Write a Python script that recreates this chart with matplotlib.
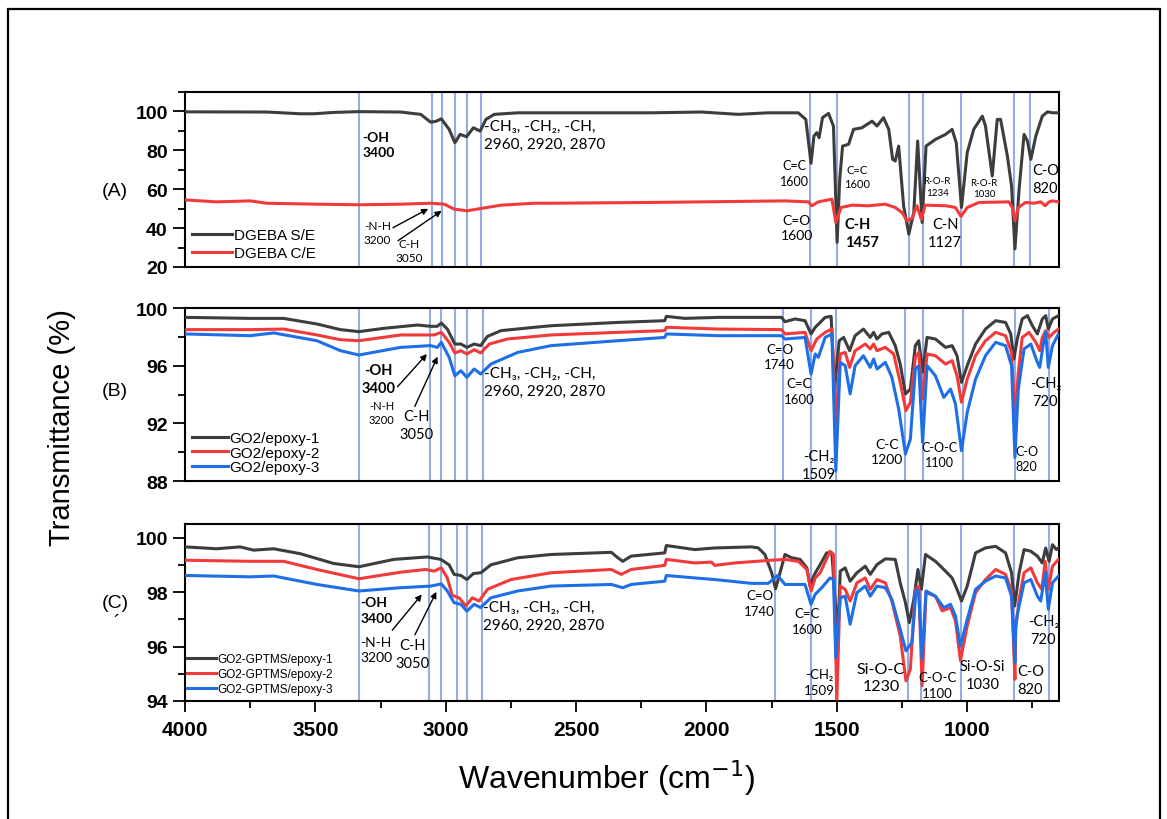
import matplotlib
matplotlib.use("Agg")
import matplotlib.pyplot as plt
from matplotlib import font_manager
from matplotlib.patches import Rectangle
from matplotlib.ticker import MultipleLocator

# ---------------- data (wavenumber cm-1, transmittance %) ----------------
# (A) DGEBA
a_se_wn = [4000, 3686, 3558, 3506, 3430, 3333, 3173, 3096, 3058, 3038, 3017, 2987, 2965, 2945, 2920,
           2894, 2868, 2846, 2814, 2724, 2596, 2468, 2212, 2019, 1878, 1763, 1648, 1619, 1599, 1588,
           1577, 1568, 1555, 1532, 1513, 1499, 1489, 1478, 1455, 1436, 1404, 1365, 1346, 1321, 1301,
           1286, 1276, 1263, 1244, 1224, 1205, 1190, 1173, 1158, 1122, 1083, 1058, 1042, 1022, 1000,
           975, 942, 930, 904, 885, 872, 846, 830, 817, 801, 782, 769, 756, 737, 712, 692, 673, 650]
a_se_t = [99.8, 99.7, 98.8, 98.8, 99.5, 99.9, 99.7, 98.5, 94.5, 94.9, 96.2, 90.8, 83.9, 88.2, 87.0,
          91.6, 89.9, 95.9, 98.5, 99.3, 99.3, 99.3, 99.3, 99.7, 98.5, 99.3, 99.3, 95.9, 73.3, 87.3,
          89.1, 86.5, 96.8, 99.0, 92.5, 32.7, 65.1, 82.2, 83.1, 90.8, 91.6, 95.0, 92.5, 96.8, 90.8,
          75.4, 74.5, 82.2, 51.5, 36.9, 48.0, 84.8, 42.9, 82.2, 85.6, 88.2, 90.8, 83.9, 50.6, 78.8,
          90.8, 97.6, 92.5, 66.8, 95.9, 95.9, 77.1, 61.7, 29.3, 60.0, 88.2, 84.8, 75.4, 87.3, 97.6,
          99.8, 99.3, 99.3]

a_ce_wn = [4000, 3878, 3750, 3686, 3494, 3333, 3173, 3058, 3006, 2968, 2919, 2865, 2788, 2660, 2596,
           2212, 1699, 1609, 1596, 1571, 1519, 1504, 1484, 1442, 1378, 1314, 1276, 1250, 1231, 1212,
           1193, 1176, 1161, 1083, 1045, 1024, 1000, 955, 840, 827, 817, 804, 776, 744, 718, 701,
           686, 673, 650]
a_ce_t = [54.5, 53.5, 54.0, 52.8, 52.3, 52.0, 52.3, 52.8, 52.3, 49.8, 48.9, 50.1, 51.8, 52.8, 52.8,
          53.2, 54.0, 53.5, 51.5, 53.5, 54.9, 42.9, 50.6, 51.8, 51.5, 52.3, 50.6, 48.0, 43.8, 45.0,
          51.5, 44.6, 51.8, 51.5, 50.6, 46.0, 50.6, 53.2, 53.5, 50.6, 43.8, 50.6, 53.2, 52.8, 53.5,
          51.5, 53.5, 54.0, 53.5]

# (B) GO2/epoxy
b1_wn = [4000, 3750, 3622, 3494, 3404, 3333, 3237, 3109, 3058, 3032, 3017, 2994, 2965, 2942, 2919,
         2891, 2866, 2840, 2788, 2660, 2596, 2340, 2160, 2154, 2083, 1955, 1827, 1712, 1699, 1660,
         1622, 1599, 1583, 1564, 1545, 1522, 1509, 1491, 1474, 1451, 1430, 1398, 1372, 1359, 1346,
         1327, 1301, 1276, 1257, 1237, 1218, 1199, 1186, 1171, 1154, 1122, 1083, 1058, 1039, 1022,
         1000, 968, 930, 891, 853, 833, 821, 808, 789, 769, 750, 731, 712, 699, 689, 673, 650]
b1_t = [99.35, 99.28, 99.28, 98.89, 98.5, 98.36, 98.59, 98.82, 98.73, 98.73, 98.96, 98.54, 97.5, 97.5,
        97.27, 97.5, 97.39, 98.03, 98.43, 98.66, 98.77, 99.0, 99.12, 99.42, 99.28, 99.35, 99.35, 99.35,
        99.05, 99.24, 99.12, 98.2, 98.66, 99.0, 99.35, 99.42, 94.4, 97.73, 97.96, 97.04, 98.08, 98.54,
        97.96, 98.31, 97.85, 98.2, 98.31, 97.39, 96.11, 94.04, 94.38, 97.39, 97.73, 95.54, 97.96, 97.85,
        97.27, 97.39, 96.69, 94.84, 96.0, 97.5, 98.54, 99.12, 99.0, 98.2, 96.46, 97.85, 99.24, 99.47,
        98.77, 98.2, 99.24, 99.47, 98.54, 99.24, 99.47]

b2_wn = [4000, 3750, 3622, 3494, 3404, 3333, 3173, 3045, 3017, 2987, 2965, 2942, 2919, 2891, 2866,
         2833, 2763, 2596, 2340, 2160, 2154, 1955, 1712, 1699, 1622, 1599, 1577, 1545, 1519, 1504,
         1487, 1468, 1451, 1430, 1391, 1372, 1359, 1346, 1314, 1282, 1257, 1235, 1218, 1199, 1186,
         1171, 1154, 1122, 1083, 1058, 1039, 1022, 1000, 968, 930, 891, 853, 830, 817, 804, 789, 763,
         737, 722, 712, 699, 686, 667, 650]
b2_t = [98.5, 98.5, 98.54, 98.13, 97.8, 97.73, 98.13, 98.13, 98.31, 97.62, 96.88, 97.04, 96.81, 97.11,
        96.88, 97.5, 97.85, 98.13, 98.31, 98.43, 98.66, 98.54, 98.5, 98.2, 98.31, 97.04, 97.85, 98.31,
        98.54, 92.07, 96.81, 96.92, 95.88, 97.04, 97.5, 97.16, 97.5, 97.04, 97.27, 96.81, 94.84, 92.88,
        93.46, 96.58, 96.92, 93.69, 96.81, 96.69, 96.11, 96.35, 95.3, 93.46, 95.07, 96.69, 97.73, 98.31,
        98.08, 96.92, 92.3, 95.54, 97.96, 98.31, 97.62, 97.04, 97.96, 98.43, 97.96, 98.31, 98.54]

b3_wn = [4000, 3750, 3660, 3494, 3404, 3333, 3173, 3058, 3032, 3017, 2987, 2965, 2942, 2919, 2891,
         2866, 2827, 2724, 2596, 2340, 2160, 2154, 1955, 1712, 1699, 1622, 1599, 1583, 1571, 1545,
         1519, 1504, 1487, 1468, 1449, 1430, 1398, 1372, 1359, 1346, 1314, 1289, 1263, 1237, 1218,
         1199, 1186, 1171, 1154, 1122, 1090, 1064, 1045, 1022, 1000, 968, 930, 891, 853, 830, 817,
         804, 782, 756, 731, 722, 709, 699, 689, 673, 650]
b3_t = [98.2, 98.08, 98.27, 97.73, 97.04, 96.74, 97.27, 97.39, 97.27, 97.62, 96.58, 95.3, 95.65, 95.19,
        95.77, 95.42, 96.11, 96.92, 97.39, 97.73, 97.96, 98.2, 98.08, 98.08, 97.85, 97.96, 95.42, 96.81,
        96.58, 97.96, 98.2, 88.7, 96.23, 96.0, 94.04, 96.0, 96.69, 95.88, 96.46, 95.77, 96.23, 95.19,
        93.0, 89.87, 90.91, 95.77, 96.0, 90.68, 96.0, 95.3, 93.8, 94.38, 93.34, 90.1, 92.76, 95.07,
        96.69, 97.62, 97.39, 96.0, 89.64, 94.38, 97.16, 97.5, 96.23, 95.88, 97.39, 98.31, 95.88, 97.39,
        98.2]

# (C) GO2-GPTMS/epoxy
c1_wn = [4000, 3878, 3789, 3737, 3660, 3558, 3430, 3333, 3199, 3071, 3019, 2987, 2968, 2942, 2919,
         2894, 2865, 2827, 2724, 2596, 2365, 2340, 2321, 2289, 2160, 2154, 2045, 1968, 1827, 1801,
         1776, 1750, 1735, 1718, 1699, 1673, 1641, 1615, 1603, 1586, 1564, 1539, 1519, 1507, 1496,
         1487, 1468, 1449, 1423, 1391, 1372, 1346, 1314, 1276, 1257, 1237, 1222, 1205, 1189, 1176,
         1160, 1122, 1096, 1058, 1039, 1022, 1000, 968, 930, 891, 853, 830, 818, 801, 782, 756, 731,
         712, 699, 686, 673, 658, 650]
c1_t = [99.66, 99.59, 99.66, 99.54, 99.59, 99.41, 99.05, 98.93, 99.2, 99.29, 99.2, 99.0, 98.65, 98.61,
        98.46, 98.68, 98.71, 99.0, 99.26, 99.38, 99.46, 99.26, 99.13, 99.32, 99.44, 99.71, 99.56, 99.62,
        99.66, 99.62, 99.38, 98.71, 98.12, 98.71, 99.38, 99.26, 99.2, 98.89, 98.22, 98.65, 99.01, 99.44,
        99.44, 97.73, 96.5, 98.77, 98.89, 98.4, 98.71, 98.95, 98.65, 99.01, 99.22, 99.2, 98.34, 97.61,
        96.88, 97.73, 98.83, 98.1, 99.38, 99.13, 98.89, 98.52, 98.1, 97.67, 98.22, 99.44, 99.62, 99.68,
        99.44, 98.71, 97.49, 98.71, 99.56, 99.5, 99.32, 99.07, 99.62, 99.13, 99.74, 99.56, 99.62]

c2_wn = [4000, 3750, 3622, 3494, 3333, 3173, 3077, 3045, 3017, 2994, 2975, 2949, 2923, 2898, 2872,
         2840, 2750, 2596, 2365, 2327, 2289, 2160, 2154, 2045, 1981, 1968, 1891, 1750, 1699, 1648,
         1615, 1599, 1583, 1564, 1526, 1513, 1500, 1487, 1468, 1449, 1423, 1391, 1372, 1346, 1314,
         1289, 1257, 1235, 1218, 1199, 1186, 1173, 1158, 1122, 1096, 1064, 1045, 1026, 1000, 968,
         930, 891, 853, 830, 817, 814, 801, 782, 756, 731, 714, 701, 689, 673, 650]
c2_t = [99.17, 99.13, 99.13, 98.83, 98.49, 98.73, 98.83, 98.77, 98.89, 98.52, 97.88, 97.79, 97.49,
        97.79, 97.67, 98.1, 98.46, 98.71, 98.83, 98.65, 98.83, 98.98, 99.2, 99.07, 99.1, 98.98, 99.07,
        99.17, 99.2, 99.13, 98.83, 98.04, 98.52, 98.71, 99.5, 99.38, 94.07, 98.22, 98.1, 97.67, 98.34,
        98.52, 98.1, 98.46, 98.34, 97.67, 96.39, 94.74, 95.17, 98.1, 98.22, 94.56, 97.98, 97.85, 97.31,
        97.43, 96.94, 95.48, 96.76, 97.98, 98.46, 98.83, 98.65, 98.04, 94.8, 96.63, 97.73, 98.71,
        98.89, 98.34, 98.1, 99.13, 98.1, 98.95, 99.2]

c3_wn = [4000, 3750, 3660, 3494, 3333, 3173, 3058, 3017, 2994, 2968, 2942, 2919, 2891, 2866, 2827,
         2724, 2596, 2365, 2321, 2289, 2160, 2154, 2045, 1968, 1827, 1763, 1727, 1699, 1622, 1599,
         1583, 1558, 1526, 1513, 1504, 1487, 1468, 1449, 1423, 1391, 1372, 1346, 1314, 1289, 1257,
         1235, 1212, 1196, 1186, 1173, 1158, 1122, 1090, 1064, 1045, 1026, 1000, 968, 930, 891, 853,
         830, 817, 814, 801, 782, 756, 731, 718, 701, 689, 673, 650]
c3_t = [98.61, 98.56, 98.59, 98.28, 98.04, 98.16, 98.22, 98.3, 98.04, 97.61, 97.55, 97.3, 97.55, 97.43,
        97.79, 98.04, 98.22, 98.28, 98.16, 98.28, 98.4, 98.61, 98.52, 98.46, 98.32, 98.32, 98.61, 98.28,
        98.28, 97.55, 97.92, 98.16, 98.52, 98.46, 95.6, 97.79, 97.85, 96.82, 97.98, 98.22, 97.85, 98.22,
        98.16, 97.73, 96.63, 95.84, 96.15, 98.1, 97.98, 95.54, 98.04, 97.85, 97.43, 97.55, 97.12, 96.02,
        97.0, 98.1, 98.4, 98.59, 98.52, 97.85, 95.41, 96.88, 97.49, 98.34, 98.46, 97.85, 97.67, 98.71,
        97.37, 98.34, 98.59]

# peak marker positions (cm-1)
a_peaks = [3333, 3054, 3013, 2965, 2919, 2865, 1603, 1500, 1224, 1170, 1024, 820, 758]
b_peaks = [3333, 3060, 3017, 2965, 2917, 2859, 1708, 1599, 1504, 1237, 1170, 1015, 818, 688]
c_peaks = [3333, 3064, 3017, 2958, 2917, 2862, 1737, 1599, 1504, 1228, 1177, 1022, 820, 685]

a_labels = ["DGEBA S/E", "DGEBA C/E"]
b_labels = ["GO2/epoxy-1", "GO2/epoxy-2", "GO2/epoxy-3"]
c_labels = ["GO2-GPTMS/epoxy-1", "GO2-GPTMS/epoxy-2", "GO2-GPTMS/epoxy-3"]

x_ticks = [4000, 3500, 3000, 2500, 2000, 1500, 1000]

# ---------------- styling ----------------
BLACK, RED, BLUE = "#3d3d3d", "#f23a3a", "#1e6fe6"
PEAK = "#92ace6"
names = {f.name for f in font_manager.fontManager.ttflist}
NARROW = "Liberation Sans Narrow" in names
NOTE = ["Lato", "DejaVu Sans"]

plt.rcParams["font.family"] = ["Liberation Sans", "DejaVu Sans"]
plt.rcParams["axes.linewidth"] = 1.5

fig = plt.figure(figsize=(11.67, 8.2), dpi=100)
W, H = 1167, 820
left, width = 185 / W, (1059 - 185) / W
axA = fig.add_axes([left, 1 - 268 / H, width, (268 - 93) / H])
axB = fig.add_axes([left, 1 - 482 / H, width, (482 - 309) / H])
axC = fig.add_axes([left, 1 - 702 / H, width, (702 - 525) / H])

# frame round the whole picture
fig.add_artist(Rectangle((8 / W, -0.05), (1160 - 8) / W, 1.05 - 10 / H, transform=fig.transFigure,
                         fill=False, lw=1.6, color="black"))


def setup(ax, ylim, major, minor, peaks):
    ax.set_xlim(4000, 648)
    ax.set_ylim(*ylim)
    ax.yaxis.set_major_locator(MultipleLocator(major))
    ax.yaxis.set_minor_locator(MultipleLocator(minor))
    ax.tick_params(axis="y", which="major", direction="out", length=9, width=1.3, labelsize=14)
    ax.tick_params(axis="y", which="minor", direction="out", length=5, width=1.3)
    for lab in ax.get_yticklabels():
        lab.set_fontweight("bold")
    for p in peaks:
        ax.axvline(p, color=PEAK, lw=1.5, zorder=1)


def note(ax, x, y, s, size=10, weight="normal", ha="center"):
    ax.text(x, y, s, fontsize=size, fontweight=weight, ha=ha, va="top", family=NOTE,
            linespacing=1.35, zorder=5)


def arrow(ax, x0, y0, x1, y1):
    ax.annotate("", xy=(x1, y1), xytext=(x0, y0),
                arrowprops=dict(arrowstyle="-|>", color="black", lw=1.0, mutation_scale=9))


# ---- (A)
setup(axA, (20, 110), 20, 10, a_peaks)
axA.plot(a_se_wn, a_se_t, color=BLACK, lw=2.2, label=a_labels[0], zorder=3)
axA.plot(a_ce_wn, a_ce_t, color=RED, lw=2.2, label=a_labels[1], zorder=3)
axA.tick_params(axis="x", bottom=False, labelbottom=False)
axA.legend(loc="lower left", bbox_to_anchor=(0.005, 0.02), frameon=False, fontsize=11,
           handlelength=2.6, handletextpad=0.1, labelspacing=0.3, borderaxespad=0, borderpad=0.2)
note(axA, 3319, 90, "-OH\n3400", 10, "bold", "left")
note(axA, 2854, 96, "-CH₃, -CH₂, -CH,\n2960, 2920, 2870", 11, "normal", "left")
note(axA, 3262, 44, "-N-H\n3200", 8.5)
note(axA, 3140, 35, "C-H\n3050", 8.5)
arrow(axA, 3212, 39.5, 3058, 50.6)
arrow(axA, 3192, 32.7, 3007, 49.7)
note(axA, 1662, 75.4, "C=C\n1600", 9)
note(axA, 1423, 72.8, "C=C\n1600", 8)
note(axA, 1115, 66.7, "R-O-R\n1234", 7)
note(axA, 935, 66.0, "R-O-R\n1030", 7)
note(axA, 752, 73.5, "C-O\n820", 10.5, "normal", "left")
note(axA, 1654, 47.5, "C=O\n1600", 10)
note(axA, 1469, 45.5, "C-H\n1457", 10.5, "bold", "left")
note(axA, 1085, 45.5, "C-N\n1127", 10.5)

# ---- (B)
setup(axB, (88, 100), 4, 2, b_peaks)
axB.plot(b1_wn, b1_t, color=BLACK, lw=2.2, label=b_labels[0], zorder=3)
axB.plot(b2_wn, b2_t, color=RED, lw=2.2, label=b_labels[1], zorder=3)
axB.plot(b3_wn, b3_t, color=BLUE, lw=2.2, label=b_labels[2], zorder=3)
axB.tick_params(axis="x", bottom=False, labelbottom=False)
axB.legend(loc="lower left", bbox_to_anchor=(0.005, 0.02), frameon=False, fontsize=11,
           handlelength=2.3, handletextpad=0.1, labelspacing=0.05, borderaxespad=0, borderpad=0.2)
note(axB, 3258, 96.2, "-OH\n3400", 10.5, "bold")
note(axB, 3246, 93.6, "-N-H\n3200", 8)
note(axB, 3112, 93.0, "C-H\n3050", 10.5)
arrow(axB, 3192, 94.4, 3065, 96.95)
arrow(axB, 3123, 93.0, 3027, 96.8)
note(axB, 2854, 96.0, "-CH₃, -CH₂, -CH,\n2960, 2920, 2870", 11, "normal", "left")
note(axB, 1720, 97.6, "C=O\n1740", 9.5)
note(axB, 1646, 95.2, "C=C\n1600", 9.5)
note(axB, 1569, 90.2, "-CH₂\n1509", 10.5)
note(axB, 1308, 91.0, "C-C\n1200", 10)
note(axB, 1108, 90.8, "C-O-C\n1100", 9)
note(axB, 816, 90.5, "C-O\n820", 9, "normal", "left")
note(axB, 700, 95.3, "-CH₂\n720", 10.5)

# ---- (C)
setup(axC, (94, 100.5), 2, 1, c_peaks)
axC.plot(c1_wn, c1_t, color=BLACK, lw=2.2, label=c_labels[0], zorder=3)
axC.plot(c2_wn, c2_t, color=RED, lw=2.2, label=c_labels[1], zorder=3)
axC.plot(c3_wn, c3_t, color=BLUE, lw=2.2, label=c_labels[2], zorder=3)
axC.set_xticks(x_ticks)
axC.xaxis.set_minor_locator(MultipleLocator(250))
axC.tick_params(axis="x", which="major", direction="out", length=8, width=1.3, pad=6)
axC.tick_params(axis="x", which="minor", direction="out", length=5, width=1.3)
if NARROW:
    for lab in axC.get_xticklabels():
        lab.set_family("Liberation Sans Narrow")
        lab.set_fontweight("bold")
        lab.set_fontsize(18)
else:
    for lab in axC.get_xticklabels():
        lab.set_fontweight("bold")
        lab.set_fontsize(15)
axC.legend(loc="lower left", bbox_to_anchor=(0.0, 0.02), frameon=False, fontsize=8.5,
           handlelength=2.4, handletextpad=0.1, labelspacing=0.25, borderaxespad=0, borderpad=0.2)
note(axC, 3327, 97.85, "-OH\n3400", 10, "bold", "left")
note(axC, 3327, 96.4, "-N-H\n3200", 10, "normal", "left")
note(axC, 3127, 96.3, "C-H\n3050", 10.5)
arrow(axC, 3212, 96.52, 3085, 97.99)
arrow(axC, 3123, 96.34, 3031, 98.1)
note(axC, 2858, 97.7, "-CH₃, -CH₂, -CH,\n2960, 2920, 2870", 11, "normal", "left")
note(axC, 1796, 98.1, "C=O\n1740", 9.5)
note(axC, 1615, 97.45, "C=C\n1600", 9.5)
note(axC, 1569, 95.2, "-CH₂\n1509", 9.5)
note(axC, 1331, 95.45, "Si-O-C\n1230", 11.5)
note(axC, 1115, 95.1, "C-O-C\n1100", 9.5)
note(axC, 942, 95.55, "Si-O-Si\n1030", 10.5)
note(axC, 808, 95.35, "C-O\n820", 10.5, "normal", "left")
note(axC, 708, 97.2, "-CH₂\n720", 10.5)

# ---- figure texts
lab_family = ["Liberation Sans Narrow", "Liberation Sans"] if NARROW else ["Liberation Sans"]
lab_size = 25 if NARROW else 21
fig.text(62 / W, 1 - 428 / H, "Transmittance (%)", rotation=90, ha="center", va="center",
         fontsize=lab_size, family=lab_family)
fig.text(607 / W, 1 - 778 / H, "Wavenumber (cm$^{-1}$)", ha="center", va="center",
         fontsize=lab_size + 2, family=lab_family)
for s, yp in [("(A)", 192), ("(B)", 392), ("(C)", 604)]:
    fig.text(115 / W, 1 - yp / H, s, ha="center", va="center", fontsize=14)
fig.text(117 / W, 1 - 624 / H, "´", ha="center", va="center", fontsize=14)

fig.savefig("out.png", dpi=100)
